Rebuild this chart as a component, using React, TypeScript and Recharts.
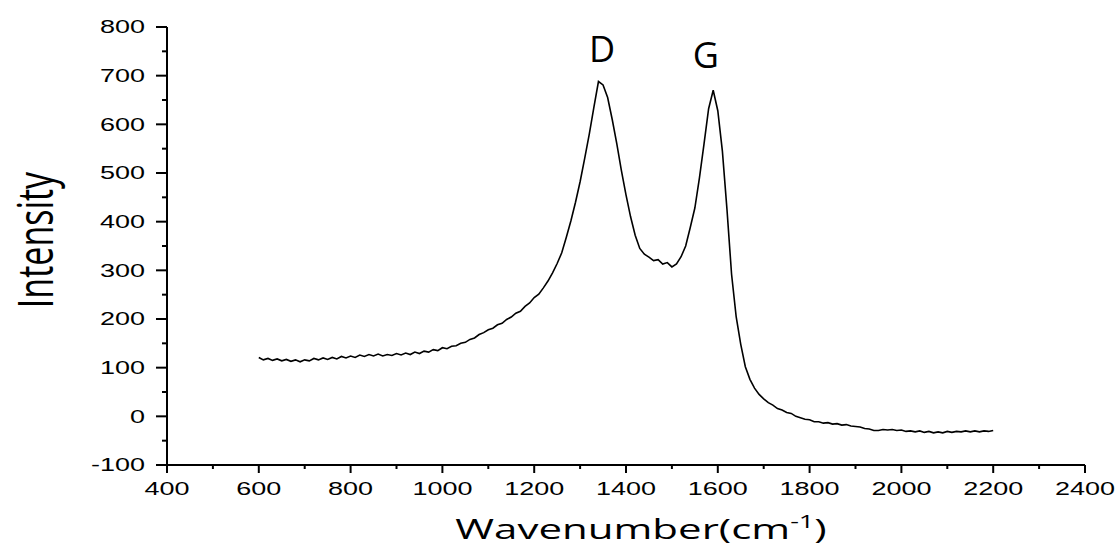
import { LineChart, Line, XAxis, YAxis, ReferenceDot, Label } from "recharts";

// Raman spectrum
const wavenumbers = [
  600, 610, 620, 630, 640, 650, 660, 670, 680, 690,
  700, 710, 720, 730, 740, 750, 760, 770, 780, 790,
  800, 810, 820, 830, 840, 850, 860, 870, 880, 890,
  900, 910, 920, 930, 940, 950, 960, 970, 980, 990,
  1000, 1010, 1020, 1030, 1040, 1050, 1060, 1070, 1080, 1090,
  1100, 1110, 1120, 1130, 1140, 1150, 1160, 1170, 1180, 1190,
  1200, 1210, 1220, 1230, 1240, 1250, 1260, 1270, 1280, 1290,
  1300, 1310, 1320, 1330, 1340, 1350, 1360, 1370, 1380, 1390,
  1400, 1410, 1420, 1430, 1440, 1450, 1460, 1470, 1480, 1490,
  1500, 1510, 1520, 1530, 1540, 1550, 1560, 1570, 1580, 1590,
  1600, 1610, 1620, 1630, 1640, 1650, 1660, 1670, 1680, 1690,
  1700, 1710, 1720, 1730, 1740, 1750, 1760, 1770, 1780, 1790,
  1800, 1810, 1820, 1830, 1840, 1850, 1860, 1870, 1880, 1890,
  1900, 1910, 1920, 1930, 1940, 1950, 1960, 1970, 1980, 1990,
  2000, 2010, 2020, 2030, 2040, 2050, 2060, 2070, 2080, 2090,
  2100, 2110, 2120, 2130, 2140, 2150, 2160, 2170, 2180, 2190,
  2200,
];

const intensity = [
  121, 116, 119, 115, 118, 114, 117, 113, 116, 112,
  116, 114, 119, 116, 120, 117, 121, 118, 123, 120,
  124, 121, 126, 123, 127, 124, 128, 124, 127, 125,
  129, 126, 130, 127, 132, 129, 134, 132, 137, 135,
  141, 139, 144, 145, 150, 152, 158, 161, 168, 172,
  178, 181, 188, 191, 199, 204, 212, 216, 226, 233,
  244, 251, 264, 278, 295, 314, 336, 368, 402, 440,
  482, 530, 580, 635, 688, 681, 655, 610, 560, 505,
  455, 410, 372, 345, 333, 327, 320, 322, 313, 316,
  307, 313, 328, 350, 388, 428, 490, 560, 632, 670,
  628, 545, 425, 292, 205, 148, 102, 76, 58, 45,
  36, 28, 23, 16, 13, 8, 6, 0, -3, -6,
  -7, -11, -11, -14, -13, -16, -15, -18, -17, -20,
  -21, -22, -25, -26, -29, -29, -27, -28, -27, -29,
  -28, -31, -30, -32, -30, -33, -31, -34, -32, -34,
  -31, -33, -31, -32, -30, -32, -30, -32, -30, -31,
  -29,
];

const xTicks = [400, 500, 600, 700, 800, 900, 1000, 1100, 1200, 1300, 1400, 1500, 1600, 1700, 1800, 1900, 2000, 2100, 2200, 2300, 2400];
const xLabeled = [400, 600, 800, 1000, 1200, 1400, 1600, 1800, 2000, 2200, 2400];
const yTicks = [-100, -50, 0, 50, 100, 150, 200, 250, 300, 350, 400, 450, 500, 550, 600, 650, 700, 750, 800];
const yLabeled = [-100, 0, 100, 200, 300, 400, 500, 600, 700, 800];

const peaks = [
  { name: "D", x: 1348, y: 755 },
  { name: "G", x: 1574, y: 742 },
];

const data = wavenumbers.map((w, i) => ({ x: w, y: intensity[i] }));

const tickFont = "'Liberation Sans', Arial, sans-serif";
const titleFont = "'Open Sans', sans-serif";

function XTick({ x, y, payload }: any) {
  const major = xLabeled.includes(payload.value);
  return (
    <g>
      <line x1={x} x2={x} y1={y} y2={y + (major ? 8 : 4)} stroke="#000" strokeWidth={2} />
      {major && (
        <text
          transform={`translate(${x},${y + 30}) scale(1.5,1)`}
          textAnchor="middle"
          fontSize={18}
          fontFamily={tickFont}
          fill="#000"
        >
          {payload.value}
        </text>
      )}
    </g>
  );
}

function YTick({ x, y, payload }: any) {
  const major = yLabeled.includes(payload.value);
  return (
    <g>
      <line x1={x - (major ? 11 : 5)} x2={x} y1={y} y2={y} stroke="#000" strokeWidth={2} />
      {major && (
        <text
          transform={`translate(${x - 22},${y}) scale(1.5,1)`}
          textAnchor="end"
          dy="0.36em"
          fontSize={18}
          fontFamily={tickFont}
          fill="#000"
        >
          {payload.value}
        </text>
      )}
    </g>
  );
}

export default function App() {
  return (
    <div style={{ position: "absolute", left: 0, top: 0, background: "#fff" }}>
      <LineChart width={1116} height={547} data={data} margin={{ top: 27, right: 31, bottom: 42, left: 0 }}>
        <XAxis
          dataKey="x"
          type="number"
          domain={[400, 2400]}
          ticks={xTicks}
          interval={0}
          height={40}
          tickSize={0}
          tickMargin={0}
          tickLine={false}
          tick={<XTick />}
          axisLine={{ stroke: "#000", strokeWidth: 2 }}
        >
          <Label
            content={() => (
              <text
                transform="translate(641,539) scale(1.5,1)"
                textAnchor="middle"
                fontSize={28}
                fontFamily={titleFont}
                fill="#000"
              >
                Wavenumber(cm
                <tspan fontSize={18} dy={-11}>-1</tspan>
                <tspan dy={11}>)</tspan>
              </text>
            )}
          />
        </XAxis>
        <YAxis
          type="number"
          domain={[-100, 800]}
          ticks={yTicks}
          interval={0}
          width={167}
          tickSize={0}
          tickMargin={0}
          tickLine={false}
          tick={<YTick />}
          axisLine={{ stroke: "#000", strokeWidth: 2 }}
        >
          <Label
            content={() => (
              <text
                transform="translate(53,240) scale(1.45,1) rotate(-90)"
                textAnchor="middle"
                fontSize={34}
                fontFamily={titleFont}
                fill="#000"
              >
                Intensity
              </text>
            )}
          />
        </YAxis>
        <Line
          type="linear"
          dataKey="y"
          stroke="#000"
          strokeWidth={1.6}
          dot={false}
          isAnimationActive={false}
        />
        {peaks.map((p) => (
          <ReferenceDot
            key={p.name}
            x={p.x}
            y={p.y}
            r={0}
            stroke="none"
            label={{ value: p.name, position: "center", fontSize: 36, fill: "#000", fontFamily: titleFont }}
          />
        ))}
      </LineChart>
    </div>
  );
}
